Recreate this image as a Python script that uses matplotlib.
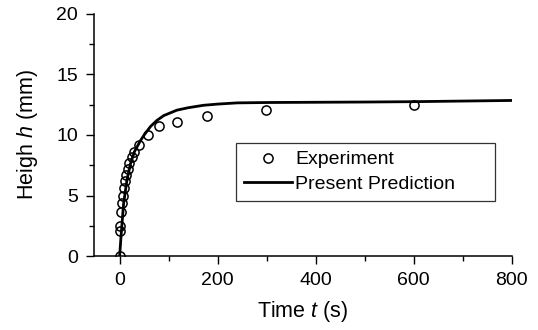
import matplotlib
matplotlib.use("Agg")
import matplotlib.pyplot as plt
from matplotlib.ticker import MultipleLocator

# experiment points
t_exp = [0, 1, 1.5, 2.8, 4.8, 6.2, 8.2, 10.2, 13.7, 16.5, 19.8, 25.3, 30, 38.8,
         57, 81, 118, 178, 299, 600]
h_exp = [0, 2.1, 2.5, 3.6, 4.4, 5.0, 5.6, 6.2, 6.7, 7.2, 7.7, 8.2, 8.6, 9.2,
         10.0, 10.7, 11.1, 11.6, 12.1, 12.45]

# prediction curve
t_pred = [0, 3, 8, 15, 22, 30, 42, 50, 63, 76, 90, 117, 140, 171, 200, 240,
          300, 400, 500, 600, 700, 800]
h_pred = [0, 1.7, 4.3, 6.3, 7.6, 8.6, 9.5, 10.0, 10.7, 11.2, 11.6, 12.05, 12.25,
          12.45, 12.55, 12.65, 12.68, 12.7, 12.72, 12.75, 12.8, 12.85]

plt.rcParams['font.family'] = ['Liberation Sans', 'DejaVu Sans']
plt.rcParams['mathtext.fontset'] = 'custom'
plt.rcParams['mathtext.rm'] = 'Liberation Sans'
plt.rcParams['mathtext.it'] = 'Liberation Sans:italic'

fig = plt.figure(figsize=(5.38, 3.30), dpi=100)
ax = fig.add_axes([0.175, 0.224, 0.776, 0.734])

ax.plot(t_exp, h_exp, 'o', ms=6.6, mfc='none', mec='black', mew=1.1,
        label='Experiment', zorder=3)
ax.plot(t_pred, h_pred, '-', color='black', lw=2.0, label='Present Prediction')

ax.set_xlim(-52, 800)
ax.set_ylim(0, 20)
ax.xaxis.set_major_locator(MultipleLocator(200))
ax.xaxis.set_minor_locator(MultipleLocator(100))
ax.yaxis.set_major_locator(MultipleLocator(5))
ax.yaxis.set_minor_locator(MultipleLocator(2.5))

for side in ['top', 'right']:
    ax.spines[side].set_visible(False)
for side in ['left', 'bottom']:
    ax.spines[side].set_linewidth(1.1)

ax.tick_params(which='major', direction='out', length=5.5, width=1.0,
               labelsize=14, pad=6)
ax.tick_params(which='minor', direction='out', length=3.5, width=1.0)

ax.set_xlabel('Time $t$ (s)', fontsize=15.5, labelpad=7)
ax.set_ylabel('Heigh $h$ (mm)', fontsize=15.5, labelpad=12)

# legend box spans the region (axes fraction)
leg = ax.legend(loc='upper left', bbox_to_anchor=(0.34, 0.227, 0.62, 0.24),
                mode='expand', fontsize=14, frameon=True, fancybox=False,
                handlelength=2.5, handletextpad=0.15, borderpad=0.4,
                labelspacing=0.35, borderaxespad=0)
leg.get_frame().set_edgecolor('black')
leg.get_frame().set_linewidth(0.9)

plt.savefig('out.png', dpi=100)
